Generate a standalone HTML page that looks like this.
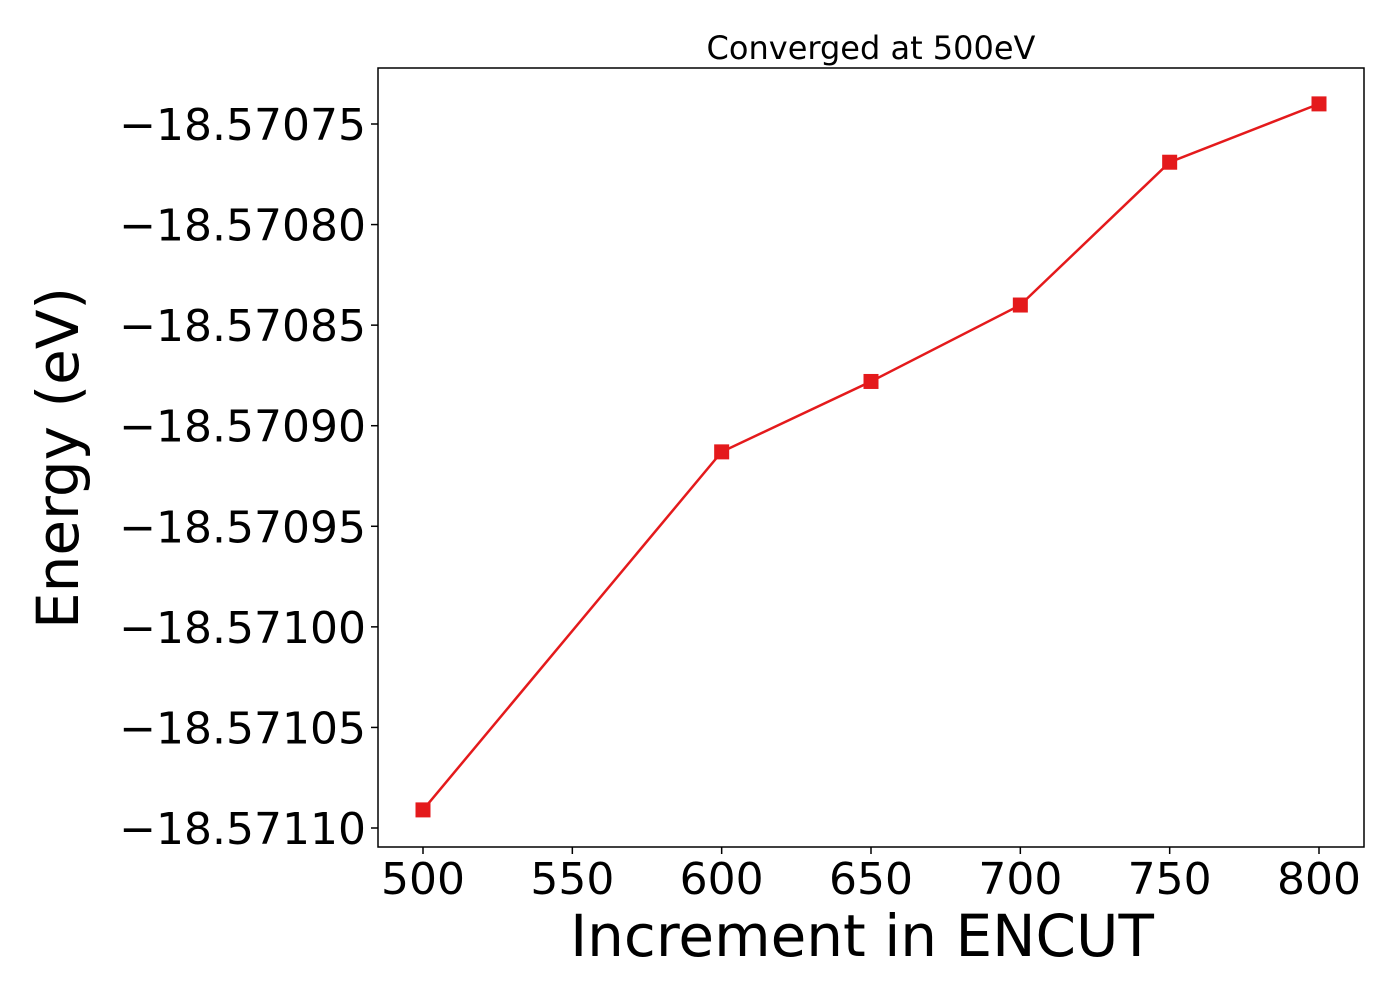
<!DOCTYPE html>
<html><head><meta charset="utf-8"><style>body{margin:0;background:#fff}svg{display:block;font-family:"DejaVu Sans","Liberation Sans",sans-serif}</style></head>
<body>
<svg id="c" width="1400" height="1000"></svg>
<script>
const xValues=[500,600,650,700,750,800];
const energies=[-18.571091,-18.570913,-18.570878,-18.570840,-18.570769,-18.570740];
const xTicks=[500,550,600,650,700,750,800];
const yTicks=[-18.57075,-18.57080,-18.57085,-18.57090,-18.57095,-18.57100,-18.57105,-18.57110];
const yTickLabels=["\u221218.57075","\u221218.57080","\u221218.57085","\u221218.57090","\u221218.57095","\u221218.57100","\u221218.57105","\u221218.57110"];
const L=378,R=1364,T=68,B=847;
const sx=v=>423+(v-500)*(1319-423)/300;
const sy=v=>124+(-18.57075-v)*(828-124)/0.00035;
const s=document.getElementById('c');const NS='http://www.w3.org/2000/svg';
function mk(t,a,txt){const e=document.createElementNS(NS,t);for(const k in a)e.setAttribute(k,a[k]);if(txt!=null)e.textContent=txt;s.appendChild(e);return e;}
let e;
e=mk('rect',{x:L,y:T,width:R-L,height:B-T,fill:'none',stroke:'#000','stroke-width':1.5});


xTicks.forEach(v=>{
e=mk('line',{x1:sx(v),x2:sx(v),y1:B,y2:B+7,stroke:'#000','stroke-width':1.5});


e=mk('text',{x:sx(v),y:B+47,'text-anchor':'middle','font-size':44},String(v));


});
yTicks.forEach((v,i)=>{
e=mk('line',{x1:L-7,x2:L,y1:sy(v),y2:sy(v),stroke:'#000','stroke-width':1.5});


e=mk('text',{x:L-12,y:sy(v)+16,'text-anchor':'end','font-size':44},yTickLabels[i]);


});
e=mk('polyline',{points:xValues.map((x,i)=>sx(x)+','+sy(energies[i])).join(' '),fill:'none',stroke:'#e41a1c','stroke-width':2.5});


xValues.forEach((x,i)=>{
e=mk('rect',{x:sx(x)-7.5,y:sy(energies[i])-7.5,width:15,height:15,fill:'#e41a1c'});


});
e=mk('text',{x:871,y:59,'text-anchor':'middle','font-size':32},'Converged at 500eV');


e=mk('text',{x:862,y:956,'text-anchor':'middle','font-size':58},'Increment in ENCUT');


e=mk('text',{x:0,y:0,'text-anchor':'middle','font-size':58,transform:'translate(78,458) rotate(-90)'},'Energy (eV)');


</script>
</body></html>
